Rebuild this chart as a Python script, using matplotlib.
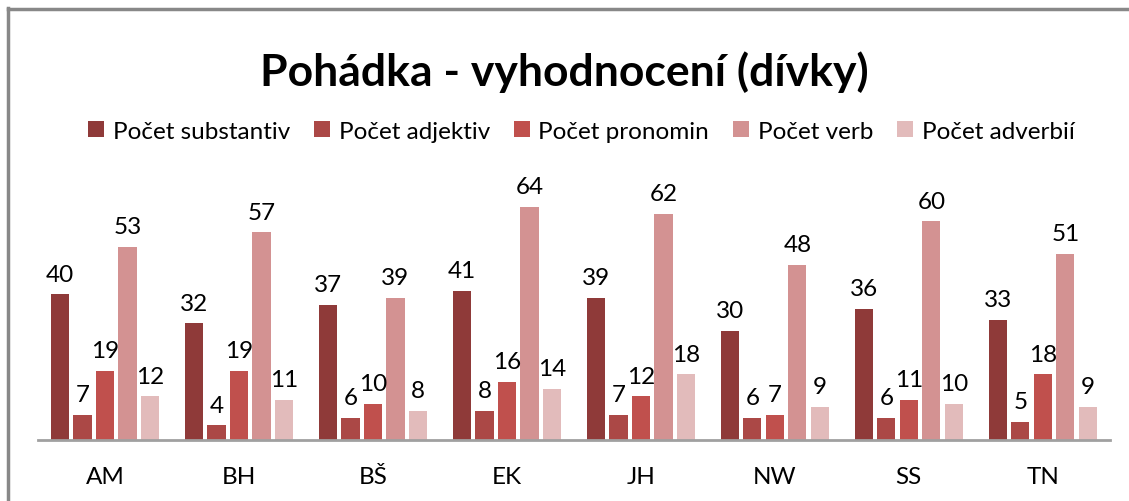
import matplotlib.pyplot as plt
import numpy as np

categories = ["AM", "BH", "BŠ", "EK", "JH", "NW", "SS", "TN"]
substantiv = [40, 32, 37, 41, 39, 30, 36, 33]
adjektiv = [7, 4, 6, 8, 7, 6, 6, 5]
pronomin = [19, 19, 10, 16, 12, 7, 11, 18]
verb = [53, 57, 39, 64, 62, 48, 60, 51]
adverbii = [12, 11, 8, 14, 18, 9, 10, 9]

series = [
    ("Počet substantiv", substantiv, "#8f3a39"),
    ("Počet adjektiv", adjektiv, "#ab4846"),
    ("Počet pronomin", pronomin, "#c0504d"),
    ("Počet verb", verb, "#d39292"),
    ("Počet adverbií", adverbii, "#e2bbbb"),
]

plt.rcParams["font.family"] = ["Lato", "DejaVu Sans"]

fig = plt.figure(figsize=(11.29, 5.02), dpi=100)
ax = fig.add_axes([0.0337, 0.1215, 0.9493, 0.508])

x = np.arange(len(categories))
pitch = 0.168
width = 0.136
for i, (name, vals, color) in enumerate(series):
    pos = x + (i - 2) * pitch
    ax.bar(pos, vals, width, color=color, label=name)
    for p, v in zip(pos, vals):
        ax.annotate(str(v), (p, v), xytext=(0, 7), textcoords="offset points",
                    ha="center", va="bottom", fontsize=17.5)

ax.set_xlim(-0.5, len(categories) - 0.5)
ax.set_ylim(0, 70)
ax.set_xticks(x)
ax.set_xticklabels(categories, fontsize=17.5)
ax.tick_params(axis="x", length=0, pad=19)
ax.set_yticks([])
for s in ["top", "right", "left"]:
    ax.spines[s].set_visible(False)
ax.spines["bottom"].set_color("#a0a0a0")
ax.spines["bottom"].set_linewidth(2)

fig.text(0.5, 0.857, "Pohádka - vyhodnocení (dívky)", ha="center", va="center",
         fontsize=32, fontweight="bold")
fig.legend(loc="center", bbox_to_anchor=(0.515, 0.737), ncol=5, frameon=False,
           fontsize=17.5, handlelength=0.65, handleheight=0.65, handletextpad=0.35,
           columnspacing=1.0)

# outer chart border (partly cut off in the original)
fig.add_artist(plt.Line2D([0.0075, 0.0075], [0, 0.982], color="#888888", lw=2.5,
                          transform=fig.transFigure))
fig.add_artist(plt.Line2D([0.0075, 1], [0.981, 0.981], color="#888888", lw=2.5,
                          transform=fig.transFigure))

fig.savefig("out.png", dpi=100)
